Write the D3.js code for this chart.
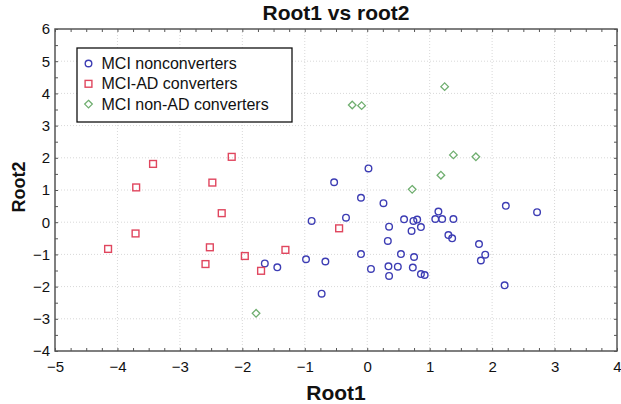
<!DOCTYPE html>
<html>
<head>
<meta charset="utf-8">
<script src="https://cdn.jsdelivr.net/npm/d3@7/dist/d3.min.js"></script>
<style>
  html, body { margin: 0; padding: 0; background: #fff; }
  svg { display: block; font-family: Arial, "Liberation Sans", sans-serif; }
</style>
</head>
<body>
<svg id="chart" width="621" height="404"></svg>
<script>
// ---- data ----
const title = "Root1 vs root2";
const xLabel = "Root1";
const yLabel = "Root2";
const xTickValues = [-5, -4, -3, -2, -1, 0, 1, 2, 3, 4];
const yTickValues = [-4, -3, -2, -1, 0, 1, 2, 3, 4, 5, 6];
const seriesNames = ["MCI nonconverters", "MCI-AD converters", "MCI non-AD converters"];

const nonconverters = [
  [0.02, 1.67], [-0.53, 1.24], [-0.10, 0.76], [0.26, 0.59], [-0.89, 0.04],
  [-0.34, 0.14], [0.35, -0.14], [0.59, 0.09], [0.74, 0.04], [0.80, 0.08],
  [0.86, -0.15], [0.71, -0.27], [1.14, 0.33], [1.09, 0.10], [1.20, 0.10],
  [1.38, 0.10], [1.30, -0.40], [1.36, -0.50], [0.33, -0.58], [1.79, -0.68],
  [2.22, 0.51], [2.72, 0.31], [-0.98, -1.15], [-0.67, -1.22], [-0.10, -0.99],
  [0.06, -1.45], [0.34, -1.37], [0.49, -1.38], [0.54, -0.99], [0.75, -1.08],
  [0.73, -1.41], [0.86, -1.61], [0.92, -1.64], [0.35, -1.67], [1.89, -1.01],
  [1.82, -1.19], [2.20, -1.96], [-0.73, -2.22], [-1.64, -1.28], [-1.44, -1.40]
];
const adConverters = [
  [-2.17, 2.03], [-3.43, 1.81], [-3.70, 1.08], [-2.48, 1.23], [-2.33, 0.28],
  [-3.71, -0.35], [-4.15, -0.83], [-2.52, -0.78], [-1.31, -0.86], [-1.96, -1.05],
  [-2.59, -1.30], [-1.70, -1.51], [-0.45, -0.19]
];
const nonAdConverters = [
  [1.24, 4.21], [-0.24, 3.64], [-0.09, 3.62], [1.38, 2.09], [1.74, 2.03],
  [1.18, 1.46], [0.72, 1.02], [-1.78, -2.83]
];

// ---- layout ----
const svg = d3.select("#chart");
const L = 55, R = 617, T = 29, B = 351;
const x = d3.scaleLinear().domain([-5, 4]).range([L, R]);
const y = d3.scaleLinear().domain([-4, 6]).range([B, T]);

const colors = { blue: "#3d3db4", red: "#e0465e", green: "#6fae6f" };

// grid (dotted)
const grid = svg.append("g");
grid.selectAll("line.vx").data(xTickValues.slice(1, -1)).join("line")
  .attr("x1", d => x(d)).attr("x2", d => x(d)).attr("y1", T).attr("y2", B)
  .attr("stroke", "#d8d8d8").attr("stroke-width", 1).attr("stroke-dasharray", "1,2");
grid.selectAll("line.hy").data(yTickValues.slice(1, -1)).join("line")
  .attr("y1", d => y(d)).attr("y2", d => y(d)).attr("x1", L).attr("x2", R)
  .attr("stroke", "#d8d8d8").attr("stroke-width", 1).attr("stroke-dasharray", "1,2");

// axes with inward ticks
const xMinor = d3.range(-5, 4.001, 0.25);
const yMinor = d3.range(-4, 6.001, 0.5);
const axisColor = "#555";

function styleAxis(g) {
  g.select(".domain").remove();
  g.selectAll(".tick line").attr("stroke", axisColor).attr("stroke-width", 1);
}

svg.append("g").attr("transform", `translate(0,${B})`)
  .call(d3.axisBottom(x).tickValues(xMinor).tickSize(-3).tickFormat(""))
  .call(styleAxis);
svg.append("g").attr("transform", `translate(0,${T})`)
  .call(d3.axisTop(x).tickValues(xMinor).tickSize(-3).tickFormat(""))
  .call(styleAxis);
svg.append("g").attr("transform", `translate(${L},0)`)
  .call(d3.axisLeft(y).tickValues(yMinor).tickSize(-3).tickFormat(""))
  .call(styleAxis);
svg.append("g").attr("transform", `translate(${R},0)`)
  .call(d3.axisRight(y).tickValues(yMinor).tickSize(-3).tickFormat(""))
  .call(styleAxis);

// tick labels
const fmt = d => (d < 0 ? "\u2212" + Math.abs(d) : String(d));
const xLab = svg.append("g").attr("transform", `translate(0,${B})`)
  .call(d3.axisBottom(x).tickValues(xTickValues).tickSize(0).tickPadding(10).tickFormat(fmt));
xLab.select(".domain").remove();
xLab.selectAll("text").attr("font-size", 15).attr("fill", "#111").attr("font-family", "Arial, 'Liberation Sans', sans-serif");

const yLab = svg.append("g").attr("transform", `translate(${L},0)`)
  .call(d3.axisLeft(y).tickValues(yTickValues).tickSize(0).tickPadding(5).tickFormat(fmt));
yLab.select(".domain").remove();
yLab.selectAll("text").attr("font-size", 15).attr("fill", "#111").attr("font-family", "Arial, 'Liberation Sans', sans-serif");

// frame
svg.append("rect").attr("x", L).attr("y", T).attr("width", R - L).attr("height", B - T)
  .attr("fill", "none").attr("stroke", axisColor).attr("stroke-width", 1.5);

// markers
function circleMark(g, px, py) {
  g.append("circle").attr("cx", px).attr("cy", py).attr("r", 3.3)
    .attr("fill", "none").attr("stroke", colors.blue).attr("stroke-width", 1.4);
}
function squareMark(g, px, py) {
  g.append("rect").attr("x", px - 3.4).attr("y", py - 3.4).attr("width", 6.8).attr("height", 6.8)
    .attr("fill", "none").attr("stroke", colors.red).attr("stroke-width", 1.4);
}
function diamondMark(g, px, py) {
  const s = 3.8;
  g.append("path").attr("d", `M${px},${py - s}L${px + s},${py}L${px},${py + s}L${px - s},${py}Z`)
    .attr("fill", "none").attr("stroke", colors.green).attr("stroke-width", 1.3);
}

const pts = svg.append("g");
nonconverters.forEach(d => circleMark(pts, x(d[0]), y(d[1])));
adConverters.forEach(d => squareMark(pts, x(d[0]), y(d[1])));
nonAdConverters.forEach(d => diamondMark(pts, x(d[0]), y(d[1])));

// legend
const lg = svg.append("g");
lg.append("rect").attr("x", 77).attr("y", 48).attr("width", 215).attr("height", 74)
  .attr("fill", "#fff").attr("stroke", "#111").attr("stroke-width", 1.3);
const markFns = [circleMark, squareMark, diamondMark];
seriesNames.forEach((name, i) => {
  const cy = 63.5 + i * 20.3;
  markFns[i](lg, 88.5, cy);
  lg.append("text").attr("x", 101.5).attr("y", cy + 5.5).attr("font-size", 16)
    .attr("fill", "#111").text(name);
});

// titles
svg.append("text").attr("x", 336).attr("y", 20).attr("text-anchor", "middle")
  .attr("font-size", 21).attr("font-weight", "bold").attr("fill", "#111").text(title);
svg.append("text").attr("x", 336).attr("y", 400).attr("text-anchor", "middle")
  .attr("font-size", 21).attr("font-weight", "bold").attr("fill", "#111").text(xLabel);
svg.append("text").attr("transform", "translate(25,187) rotate(-90)").attr("text-anchor", "middle")
  .attr("font-size", 18).attr("font-weight", "bold").attr("fill", "#111").text(yLabel);
</script>
</body>
</html>
